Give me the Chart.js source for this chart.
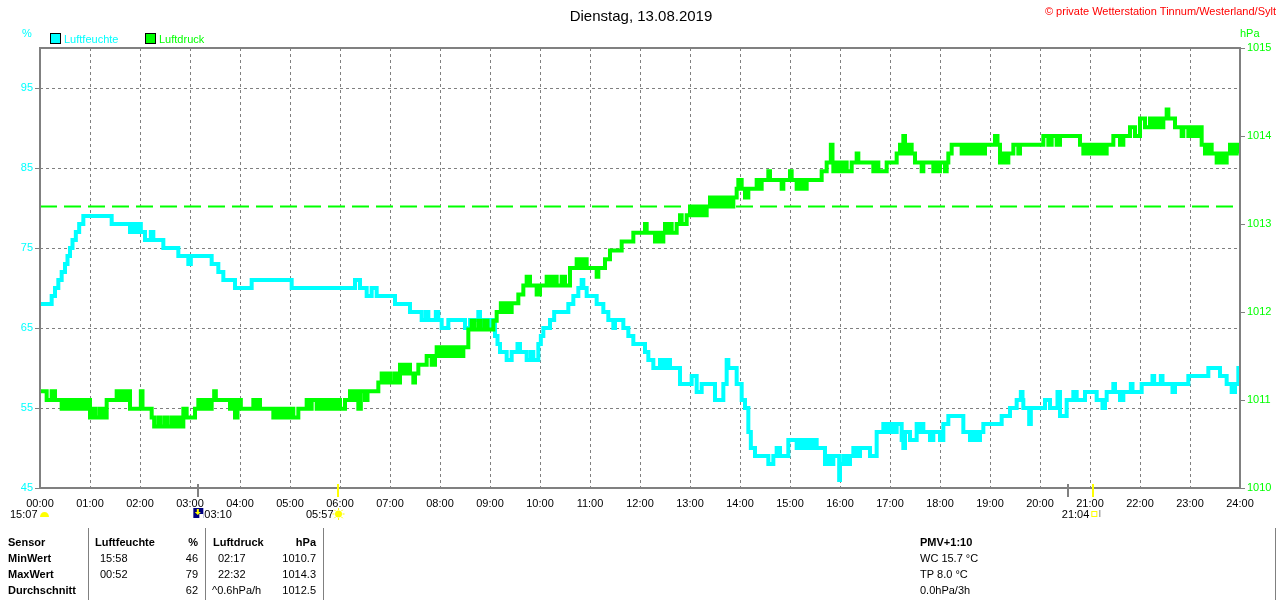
<!DOCTYPE html>
<html>
<head>
<meta charset="utf-8">
<title>Dienstag, 13.08.2019</title>
<script src="https://cdn.jsdelivr.net/npm/chart.js@4/dist/chart.umd.min.js"></script>
<style>
  html, body { margin: 0; padding: 0; background: #fff; }
  #wrap { width: 1280px; height: 600px; }
</style>
</head>
<body>
<div id="wrap"><canvas id="chart" width="1280" height="600"></canvas></div>
<script>
// times are minutes since midnight
const humTimes = [0, 14, 18, 22, 26, 30, 33, 36, 39, 43, 47, 52, 86, 108, 111, 114, 118, 121, 126, 133, 136, 148, 166, 178, 181, 206, 214, 220, 234, 254, 302,
  378, 384, 392, 398, 404, 426, 444, 458, 463, 466, 475, 478, 482, 490, 510, 516, 526, 528, 532, 536, 540, 544, 546, 549, 552, 560, 566, 573, 576, 584, 589, 592,
  598, 601, 604, 612, 617, 634, 640, 646, 650, 652, 656, 668, 676, 682, 688, 690, 700, 706, 712, 726, 730, 736, 744, 748, 752, 756, 768, 782, 788, 794, 810, 820,
  824, 826, 836, 842, 846, 850, 853, 858, 874, 880, 884, 888, 898, 908, 912, 916, 920, 924, 928, 932, 942, 946, 948, 952, 959, 960, 964, 968, 972, 976, 980, 984,
  996, 1004, 1012, 1016, 1020, 1024, 1028, 1034, 1036, 1038, 1044, 1052, 1056, 1058, 1060, 1068, 1072, 1080, 1084, 1090, 1108, 1116, 1120, 1124, 1128, 1132,
  1154, 1164, 1172, 1177, 1179, 1180, 1187, 1189, 1206, 1212, 1221, 1224, 1232, 1240, 1244, 1254, 1268, 1275, 1278, 1280, 1288, 1290, 1296, 1300, 1309, 1311,
  1322, 1335, 1337, 1345, 1347, 1359, 1362, 1378, 1402, 1416, 1424, 1430, 1434, 1438, 1440];
const humValues = [68, 69, 70, 71, 72, 73, 74, 75, 76, 77, 78, 79, 78, 77, 78, 77, 78, 77, 76, 77, 76, 75, 74, 73, 74, 73, 72, 71, 70, 71, 70,
  71, 70, 69, 70, 69, 68, 67, 66, 67, 66, 67, 66, 65, 66, 65, 66, 67, 66, 65, 66, 65, 66, 64, 63, 62, 61, 62, 63, 62, 61, 62, 61,
  63, 64, 65, 66, 67, 68, 69, 70, 71, 70, 69, 68, 67, 66, 65, 66, 65, 64, 63, 62, 61, 60, 61, 60, 61, 60, 58, 59, 57, 58, 56, 58,
  61, 60, 58, 56, 55, 52, 50, 49, 48, 49, 50, 49, 51, 50, 51, 50, 51, 50, 51, 50, 48, 49, 48, 49, 46, 48, 49, 48, 49, 50, 49, 50,
  49, 52, 53, 52, 53, 52, 53, 51, 50, 52, 51, 53, 52, 53, 52, 51, 52, 51, 53, 54, 52, 51, 52, 51, 52, 53,
  54, 55, 56, 57, 56, 55, 53, 55, 56, 55, 57, 54, 56, 57, 56, 57, 56, 55, 56, 57, 58, 57, 56, 57, 58, 57,
  58, 59, 58, 59, 58, 57, 58, 59, 60, 59, 58, 57, 58, 60, 60];

const presTimes = [0, 8, 14, 18, 26, 29, 32, 35, 38, 42, 46, 50, 54, 58, 60, 64, 67, 72, 76, 80, 92, 95, 98, 102, 105, 108, 121, 123, 134, 137, 142, 145, 150,
  153, 158, 162, 166, 170, 172, 176, 186, 190, 194, 198, 202, 206, 209, 211, 228, 231, 234, 237, 241, 256, 258, 262, 264, 280, 284, 288, 292, 296, 300, 304,
  310, 320, 323, 326, 332, 335, 338, 342, 345, 348, 352, 356, 360, 366, 372, 375, 378, 382, 385, 390, 393, 406, 410, 413, 417, 420, 425, 428, 432, 436, 440,
  444, 448, 450, 454, 464, 470, 474, 476, 480, 484, 488, 492, 496, 500, 504, 508, 514, 518, 521, 526, 529, 534, 537, 544, 548, 553, 556, 560, 563, 566, 574,
  580, 584, 588, 596, 600, 608, 612, 616, 620, 626, 630, 636, 644, 648, 652, 656, 668, 670, 678, 684, 698, 712, 726, 728, 738, 741, 744, 748, 750, 752, 756,
  758, 764, 768, 770, 776, 780, 782, 786, 790, 794, 797, 800, 804, 806, 810, 812, 816, 818, 822, 824, 828, 830, 832, 836, 838, 842, 846, 850, 860, 862, 866,
  874, 876, 890, 892, 900, 902, 908, 912, 916, 920, 938, 944, 949, 951, 952, 956, 960, 964, 968, 974, 980, 982, 1000, 1004, 1006, 1016, 1028, 1032, 1034,
  1036, 1038, 1042, 1046, 1050, 1058, 1060, 1072, 1074, 1078, 1080, 1086, 1088, 1090, 1094, 1106, 1110, 1114, 1118, 1122, 1126, 1130, 1134, 1146, 1149,
  1152, 1155, 1158, 1162, 1168, 1174, 1176, 1204, 1210, 1214, 1220, 1224, 1248, 1252, 1256, 1260, 1264, 1268, 1272, 1276, 1280, 1288, 1296, 1300, 1308,
  1314, 1320, 1326, 1332, 1336, 1340, 1344, 1348, 1352, 1354, 1362, 1370, 1372, 1378, 1382, 1386, 1390, 1394, 1398, 1402, 1406, 1412, 1416, 1420, 1424,
  1428, 1432, 1436, 1440];
const presValues = [1011.1, 1011.0, 1011.1, 1011.0, 1010.9, 1011.0, 1010.9, 1011.0, 1010.9, 1011.0, 1010.9, 1011.0, 1010.9, 1011.0, 1010.8, 1010.9, 1010.8,
  1010.9, 1010.8, 1011.0, 1011.1, 1011.0, 1011.1, 1011.0, 1011.1, 1010.9, 1011.1, 1010.9, 1010.8, 1010.7, 1010.8, 1010.7, 1010.8,
  1010.7, 1010.8, 1010.7, 1010.8, 1010.7, 1010.9, 1010.8, 1010.9, 1011.0, 1010.9, 1011.0, 1010.9, 1011.0, 1011.1, 1011.0, 1010.9, 1011.0, 1010.8, 1011.0,
  1010.9, 1011.0, 1010.9, 1011.0, 1010.9, 1010.8, 1010.9, 1010.8, 1010.9, 1010.8, 1010.9, 1010.8,
  1010.9, 1011.0, 1010.9, 1011.0, 1010.9, 1011.0, 1010.9, 1011.0, 1010.9, 1011.0, 1010.9, 1011.0, 1010.9, 1011.0, 1011.1, 1011.0, 1011.1, 1010.9, 1011.1,
  1011.0, 1011.1, 1011.2, 1011.3, 1011.2, 1011.3, 1011.2, 1011.3, 1011.2, 1011.4, 1011.3, 1011.4,
  1011.3, 1011.2, 1011.3, 1011.4, 1011.5, 1011.4, 1011.5, 1011.6, 1011.5, 1011.6, 1011.5, 1011.6, 1011.5, 1011.6, 1011.5, 1011.6, 1011.8, 1011.9, 1011.8,
  1011.9, 1011.8, 1011.9, 1011.8, 1011.9, 1012.0, 1012.1, 1012.0, 1012.1, 1012.0, 1012.1, 1012.2,
  1012.3, 1012.4, 1012.3, 1012.2, 1012.3, 1012.4, 1012.3, 1012.4, 1012.3, 1012.4, 1012.3, 1012.5, 1012.6, 1012.5, 1012.6, 1012.5, 1012.4, 1012.5, 1012.6,
  1012.7, 1012.8, 1012.9, 1013.0, 1012.9, 1012.8, 1012.9, 1012.8, 1012.9, 1013.0, 1012.9, 1013.0,
  1012.9, 1013.0, 1013.1, 1013.0, 1013.1, 1013.2, 1013.1, 1013.2, 1013.1, 1013.2, 1013.1, 1013.2, 1013.3, 1013.2, 1013.3, 1013.2, 1013.3, 1013.2, 1013.3,
  1013.2, 1013.3, 1013.2, 1013.3, 1013.4, 1013.5, 1013.4, 1013.3, 1013.4, 1013.5, 1013.4, 1013.5,
  1013.6, 1013.5, 1013.4, 1013.5, 1013.6, 1013.5, 1013.4, 1013.5, 1013.4, 1013.5, 1013.6, 1013.7, 1013.9, 1013.7, 1013.6, 1013.7, 1013.6, 1013.7, 1013.6,
  1013.7, 1013.8, 1013.7, 1013.6, 1013.7, 1013.6, 1013.7, 1013.8, 1013.9, 1013.8,
  1014.0, 1013.8, 1013.9, 1013.8, 1013.7, 1013.6, 1013.7, 1013.6, 1013.7, 1013.6, 1013.7, 1013.6, 1013.7, 1013.8, 1013.9, 1013.8, 1013.9, 1013.8, 1013.9,
  1013.8, 1013.9, 1013.8, 1013.9, 1014.0, 1013.9,
  1013.7, 1013.8, 1013.7, 1013.8, 1013.9, 1013.8, 1013.9, 1014.0, 1013.9, 1014.0, 1013.9, 1014.0, 1013.9, 1013.8, 1013.9, 1013.8, 1013.9, 1013.8, 1013.9,
  1013.8, 1013.9, 1014.0, 1013.9, 1014.0, 1014.1,
  1014.0, 1014.2, 1014.1, 1014.2, 1014.1, 1014.2, 1014.1, 1014.2, 1014.3, 1014.2, 1014.1, 1014.0, 1014.1, 1014.0, 1014.1, 1014.0, 1014.1, 1013.9, 1013.8,
  1013.9, 1013.8, 1013.7, 1013.8, 1013.7, 1013.8,
  1013.9, 1013.8, 1013.9, 1013.8];

const refPressure = 1013.2;
const humTicks = [45, 55, 65, 75, 85, 95];
const presTicks = [1010, 1011, 1012, 1013, 1014, 1015];
const hours = [0, 1, 2, 3, 4, 5, 6, 7, 8, 9, 10, 11, 12, 13, 14, 15, 16, 17, 18, 19, 20, 21, 22, 23, 24];

// moon / sun events under the time axis
const eventTimes = [190, 357, 1234, 1264];
const eventKinds = ['moon', 'sun', 'moon', 'sun'];

const statLabels = ['Sensor', 'MinWert', 'MaxWert', 'Durchschnitt'];
const humStatTimes = ['15:58', '00:52', ''];
const humStats = ['46', '79', '62'];
const presStatTimes = ['02:17', '22:32', '^0.6hPa/h'];
const presStats = ['1010.7', '1014.3', '1012.5'];
const extraInfo = ['PMV+1:10', 'WC 15.7 °C', 'TP 8.0 °C', '0.0hPa/3h'];

const CYAN = '#00ffff';
const GREEN = '#00ff00';
const GRAY = '#808080';
const FONT = '"Liberation Sans", Arial, sans-serif';

const pad = n => String(n).padStart(2, '0');

function text(ctx, str, x, y, opts = {}) {
    ctx.font = (opts.bold ? 'bold ' : '') + (opts.size || 11) + 'px ' + FONT;
    ctx.fillStyle = opts.color || '#000';
    ctx.textAlign = opts.align || 'left';
    ctx.textBaseline = 'alphabetic';
    ctx.fillText(str, x, y);
}

function drawSun(ctx, cx, cy) {
    ctx.strokeStyle = '#ffff00';
    ctx.fillStyle = '#ffff00';
    ctx.lineWidth = 1;
    for (let i = 0; i < 8; i++) {
        const a = i * Math.PI / 4;
        ctx.beginPath();
        ctx.moveTo(cx + Math.cos(a) * 4, cy + Math.sin(a) * 4);
        ctx.lineTo(cx + Math.cos(a) * 6, cy + Math.sin(a) * 6);
        ctx.stroke();
    }
    ctx.beginPath();
    ctx.arc(cx, cy, 3.5, 0, Math.PI * 2);
    ctx.fill();
}

const decor = {
    id: 'decor',
    afterDraw(chart) {
        const {ctx, chartArea: a, scales: {x}} = chart;
        ctx.save();

        // header
        text(ctx, 'Dienstag, 13.08.2019', 641, 21, {size: 15, align: 'center'});
        text(ctx, '© private Wetterstation Tinnum/Westerland/Sylt', 1276, 15, {size: 11, color: '#ff0000', align: 'right'});
        text(ctx, '%', 22, 37, {color: CYAN});
        text(ctx, 'hPa', 1240, 37, {color: GREEN});

        // legend
        [['Luftfeuchte', CYAN, 50], ['Luftdruck', GREEN, 145]].forEach(([label, color, lx]) => {
            ctx.fillStyle = color;
            ctx.fillRect(lx, 33, 10, 10);
            ctx.strokeStyle = '#000';
            ctx.lineWidth = 1;
            ctx.strokeRect(lx + 0.5, 33.5, 10, 10);
            text(ctx, label, lx + 14, 43, {color});
        });

        // frame
        ctx.strokeStyle = GRAY;
        ctx.lineWidth = 2;
        ctx.strokeRect(a.left, a.top, a.right - a.left, a.bottom - a.top);

        // event ticks
        eventTimes.forEach((t, i) => {
            const px = Math.round(x.getPixelForValue(t));
            ctx.fillStyle = eventKinds[i] === 'sun' ? '#ffff00' : GRAY;
            ctx.fillRect(px - 1, a.bottom - 4, 2, 13);
        });

        // event labels
        text(ctx, '15:07', 10, 518);
        ctx.fillStyle = '#ffff00';
        ctx.beginPath();
        ctx.ellipse(44.5, 517, 4.5, 5, 0, Math.PI, 0);
        ctx.fill();

        const pMoonSet = x.getPixelForValue(eventTimes[0]);
        ctx.fillStyle = '#000080';
        ctx.fillRect(pMoonSet - 5, 508, 10, 10);
        ctx.fillStyle = '#ffffff';
        ctx.fillRect(pMoonSet + 1, 514, 4, 4);
        ctx.fillStyle = '#ffff00';
        ctx.fillRect(pMoonSet - 1.5, 509, 2, 4);
        ctx.beginPath();
        ctx.moveTo(pMoonSet - 3.5, 512);
        ctx.lineTo(pMoonSet + 2.5, 512);
        ctx.lineTo(pMoonSet - 0.5, 515);
        ctx.fill();
        text(ctx, '03:10', pMoonSet + 6, 518);

        const pSunRise = x.getPixelForValue(eventTimes[1]);
        text(ctx, '05:57', pSunRise - 4, 518, {align: 'right'});
        drawSun(ctx, pSunRise + 1, 514);

        const pSunSet = x.getPixelForValue(eventTimes[3]);
        text(ctx, '21:04', pSunSet - 4, 518, {align: 'right'});
        ctx.strokeStyle = '#ffff00';
        ctx.lineWidth = 1;
        ctx.strokeRect(pSunSet - 1.5, 511.5, 5, 5);
        ctx.fillStyle = '#808080';
        ctx.fillRect(pSunSet + 6, 510, 1, 7);

        // statistics table
        ctx.fillStyle = GRAY;
        [88, 205, 323, 1275].forEach(lx => ctx.fillRect(lx, 528, 1, 72));

        const rowsY = [546, 562, 578, 594];
        statLabels.forEach((s, i) => text(ctx, s, 8, rowsY[i], {bold: true}));
        text(ctx, 'Luftfeuchte', 95, rowsY[0], {bold: true});
        text(ctx, '%', 198, rowsY[0], {bold: true, align: 'right'});
        text(ctx, 'Luftdruck', 213, rowsY[0], {bold: true});
        text(ctx, 'hPa', 316, rowsY[0], {bold: true, align: 'right'});
        humStats.forEach((v, i) => {
            text(ctx, humStatTimes[i], 100, rowsY[i + 1]);
            text(ctx, v, 198, rowsY[i + 1], {align: 'right'});
        });
        presStats.forEach((v, i) => {
            const t = presStatTimes[i];
            text(ctx, t, t.startsWith('^') ? 212 : 218, rowsY[i + 1]);
            text(ctx, v, 316, rowsY[i + 1], {align: 'right'});
        });
        extraInfo.forEach((s, i) => text(ctx, s, 920, rowsY[i], {bold: i === 0}));

        ctx.restore();
    }
};

const ctx = document.getElementById('chart').getContext('2d');

const config = {
    type: 'line',
    data: {
        datasets: [{
            label: 'Luftdruck',
            data: presTimes.map((t, i) => ({x: t, y: presValues[i]})),
            yAxisID: 'y2',
            borderColor: GREEN,
            borderWidth: 4,
            stepped: true,
            pointRadius: 0
        }, {
            label: 'Luftfeuchte',
            data: humTimes.map((t, i) => ({x: t, y: humValues[i]})),
            yAxisID: 'y',
            borderColor: CYAN,
            borderWidth: 4,
            stepped: true,
            pointRadius: 0
        }, {
            label: 'Referenz',
            data: [{x: 0, y: refPressure}, {x: 1440, y: refPressure}],
            yAxisID: 'y2',
            borderColor: GREEN,
            borderWidth: 2,
            borderDash: [17, 7],
            pointRadius: 0
        }]
    },
    options: {
        responsive: false,
        animation: false,
        layout: {padding: {top: 48, left: 0, right: 0, bottom: 0}},
        plugins: {legend: {display: false}, title: {display: false}, tooltip: {enabled: false}},
        scales: {
            x: {
                type: 'linear',
                min: 0,
                max: 1440,
                afterFit: s => { s.height = 112; },
                afterBuildTicks: s => { s.ticks = hours.map(h => ({value: h * 60})); },
                ticks: {
                    callback: v => pad(v / 60) + ':00',
                    color: '#000',
                    font: {size: 11, family: FONT},
                    padding: 9,
                    maxRotation: 0,
                    autoSkip: false
                },
                grid: {color: GRAY, lineWidth: 1, drawTicks: false},
                border: {display: false, dash: [3, 3]}
            },
            y: {
                position: 'left',
                min: 45,
                max: 100,
                afterFit: s => { s.width = 40; },
                afterBuildTicks: s => { s.ticks = humTicks.map(v => ({value: v})); },
                ticks: {color: CYAN, font: {size: 11, family: FONT}, padding: 2},
                grid: {color: GRAY, lineWidth: 1, tickLength: 5, tickColor: GRAY},
                border: {display: false, dash: [3, 3]}
            },
            y2: {
                position: 'right',
                min: 1010,
                max: 1015,
                afterFit: s => { s.width = 40; },
                afterBuildTicks: s => { s.ticks = presTicks.map(v => ({value: v})); },
                ticks: {callback: v => String(v), color: GREEN, font: {size: 11, family: FONT}, padding: 2},
                grid: {drawOnChartArea: false, tickLength: 5, tickColor: GRAY},
                border: {display: false}
            }
        }
    },
    plugins: [decor]
};

const chart = new Chart(ctx, config);
</script>
</body>
</html>
